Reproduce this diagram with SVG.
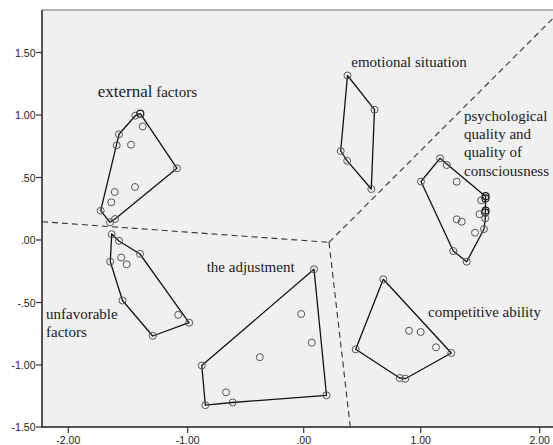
<svg xmlns="http://www.w3.org/2000/svg" width="553" height="445" viewBox="0 0 553 445">
<style>
.pt{fill:none;stroke:#555;stroke-width:1}
.pk{fill:none;stroke:#222;stroke-width:1.2}
.hull{fill:none;stroke:#111;stroke-width:1.3;stroke-linejoin:round}
.dash{fill:none;stroke:#333;stroke-width:1.1;stroke-dasharray:6,4}
.lbl{font-family:"Liberation Serif","Times New Roman",serif;font-size:15px;fill:#1a1a1a}
.ax{font-family:"Liberation Sans",Arial,sans-serif;font-size:10.5px;fill:#222}
.tick{stroke:#333;stroke-width:1.2}
</style>
<rect x="0" y="0" width="553" height="445" fill="#fff"/>
<rect x="42" y="10" width="520" height="417" fill="#f0f0f0" stroke="#888" stroke-width="1.2"/>
<g id="axes">
<line x1="42" y1="10" x2="42" y2="427.5" stroke="#333" stroke-width="1.5"/>
<line x1="41.5" y1="427" x2="553" y2="427" stroke="#333" stroke-width="1.5"/>
<line class="tick" x1="36" y1="52.5" x2="42" y2="52.5"/>
<line class="tick" x1="36" y1="115" x2="42" y2="115"/>
<line class="tick" x1="36" y1="177.5" x2="42" y2="177.5"/>
<line class="tick" x1="36" y1="240" x2="42" y2="240"/>
<line class="tick" x1="36" y1="302.5" x2="42" y2="302.5"/>
<line class="tick" x1="36" y1="365" x2="42" y2="365"/>
<line class="tick" x1="36" y1="427" x2="42" y2="427"/>
<line class="tick" x1="68.3" y1="427" x2="68.3" y2="433"/>
<line class="tick" x1="187.7" y1="427" x2="187.7" y2="433"/>
<line class="tick" x1="303.7" y1="427" x2="303.7" y2="433"/>
<line class="tick" x1="420.7" y1="427" x2="420.7" y2="433"/>
<line class="tick" x1="539.7" y1="427" x2="539.7" y2="433"/>
<text class="ax" x="35.5" y="56.5" text-anchor="end">1.50</text>
<text class="ax" x="35.5" y="119" text-anchor="end">1.00</text>
<text class="ax" x="35.5" y="181.5" text-anchor="end">.50</text>
<text class="ax" x="35.5" y="244" text-anchor="end">.00</text>
<text class="ax" x="35.5" y="306.5" text-anchor="end">-.50</text>
<text class="ax" x="35.5" y="369" text-anchor="end">-1.00</text>
<text class="ax" x="35.5" y="431" text-anchor="end">-1.50</text>
<text class="ax" x="68.3" y="443.5" text-anchor="middle">-2.00</text>
<text class="ax" x="187.7" y="443.5" text-anchor="middle">-1.00</text>
<text class="ax" x="303.7" y="443.5" text-anchor="middle">.00</text>
<text class="ax" x="420.7" y="443.5" text-anchor="middle">1.00</text>
<text class="ax" x="539.7" y="443.5" text-anchor="middle">2.00</text>
</g>
<g id="connectors">
<line class="dash" x1="42" y1="221.7" x2="329" y2="242.3"/>
<line class="dash" x1="329" y1="242.3" x2="350.3" y2="427"/>
<line class="dash" x1="329" y1="242.3" x2="555" y2="16.3"/>
</g>
<g id="external-factors">
<polygon class="hull" points="140.3,113.7 177,168.3 115,219 110,222.3 100.7,210.7 119,134.3 135.3,115.7"/>
<circle class="pt" cx="135.3" cy="115.7" r="3.5"/>
<circle class="pk" cx="140.3" cy="113.7" r="3.5"/>
<circle class="pt" cx="142.7" cy="126.5" r="3.5"/>
<circle class="pt" cx="119" cy="134.3" r="3.5"/>
<circle class="pt" cx="116.7" cy="145.3" r="3.5"/>
<circle class="pt" cx="131" cy="144.7" r="3.5"/>
<circle class="pt" cx="177" cy="168.3" r="3.5"/>
<circle class="pt" cx="135" cy="187" r="3.5"/>
<circle class="pt" cx="114.7" cy="192" r="3.5"/>
<circle class="pt" cx="111.3" cy="202.3" r="3.5"/>
<circle class="pt" cx="100.7" cy="210.7" r="3.5"/>
<circle class="pt" cx="110" cy="222.3" r="3.5"/>
<circle class="pt" cx="115" cy="219" r="3.5"/>
<text class="lbl" x="97.7" y="97.3"><tspan font-size="17">external</tspan> factors</text>
</g>
<g id="unfavorable-factors">
<polygon class="hull" points="111.7,234 119,241 140,254 189,322.7 152.7,336 122.5,300.5 110.3,261.7"/>
<circle class="pt" cx="111.7" cy="234.2" r="3.5"/>
<circle class="pt" cx="119" cy="240.8" r="3.5"/>
<circle class="pt" cx="140" cy="253.8" r="3.5"/>
<circle class="pt" cx="110.2" cy="261.7" r="3.5"/>
<circle class="pt" cx="121.2" cy="257.5" r="3.5"/>
<circle class="pt" cx="126.7" cy="264.3" r="3.5"/>
<circle class="pt" cx="122.5" cy="300.5" r="3.5"/>
<circle class="pt" cx="178.2" cy="314.8" r="3.5"/>
<circle class="pt" cx="189.2" cy="322.7" r="3.5"/>
<circle class="pt" cx="152.7" cy="335.8" r="3.5"/>
<text class="lbl" x="46" y="319">unfavorable</text>
<text class="lbl" x="46" y="337">factors</text>
</g>
<g id="the-adjustment">
<polygon class="hull" points="314,269.3 326.5,395.3 232.7,402.5 205.3,405.2 201.8,365.5"/>
<circle class="pt" cx="314" cy="269.3" r="3.5"/>
<circle class="pt" cx="301.2" cy="314" r="3.5"/>
<circle class="pt" cx="311.7" cy="342.7" r="3.5"/>
<circle class="pt" cx="259.8" cy="357.2" r="3.5"/>
<circle class="pt" cx="201.8" cy="365.5" r="3.5"/>
<circle class="pt" cx="226" cy="392.3" r="3.5"/>
<circle class="pt" cx="205.3" cy="405.2" r="3.5"/>
<circle class="pt" cx="232.7" cy="402.5" r="3.5"/>
<circle class="pt" cx="326.5" cy="395.3" r="3.5"/>
<text class="lbl" x="206.7" y="271.7">the adjustment</text>
</g>
<g id="competitive-ability">
<polygon class="hull" points="383.3,279.3 451.3,353 405.3,378.7 399.7,378 355.7,349.3"/>
<circle class="pt" cx="383.3" cy="279.3" r="3.5"/>
<circle class="pt" cx="355.7" cy="349.3" r="3.5"/>
<circle class="pt" cx="409" cy="330.7" r="3.5"/>
<circle class="pt" cx="420.7" cy="332" r="3.5"/>
<circle class="pt" cx="436" cy="347.3" r="3.5"/>
<circle class="pt" cx="451.3" cy="353" r="3.5"/>
<circle class="pt" cx="399.7" cy="378" r="3.5"/>
<circle class="pt" cx="405.3" cy="378.7" r="3.5"/>
<text class="lbl" x="428" y="317.3">competitive ability</text>
</g>
<g id="emotional-situation">
<polygon class="hull" points="347.5,75.5 374.5,109.7 371.3,189 347.2,160.8 340.7,151"/>
<circle class="pt" cx="347.5" cy="75.5" r="3.5"/>
<circle class="pt" cx="374.5" cy="109.7" r="3.5"/>
<circle class="pt" cx="340.7" cy="151" r="3.5"/>
<circle class="pt" cx="347.2" cy="160.8" r="3.5"/>
<circle class="pt" cx="371.3" cy="189" r="3.5"/>
<text class="lbl" x="351.3" y="66.7">emotional situation</text>
</g>
<g id="psychological-quality">
<polygon class="hull" points="440,158.3 485.6,196.6 485.3,218.3 484,229 466.7,261.7 453.3,251 421,181.5"/>
<circle class="pt" cx="440" cy="158.3" r="3.5"/>
<circle class="pt" cx="446.7" cy="165" r="3.5"/>
<circle class="pt" cx="421" cy="181.5" r="3.5"/>
<circle class="pt" cx="456.7" cy="181.7" r="3.5"/>
<circle class="pt" cx="481.2" cy="200.3" r="3.5"/>
<circle class="pk" cx="485.6" cy="196.2" r="3.5"/>
<circle class="pk" cx="485.4" cy="198.4" r="3.5"/>
<circle class="pk" cx="485.6" cy="210.6" r="3.5"/>
<circle class="pk" cx="485.2" cy="212.6" r="3.5"/>
<circle class="pt" cx="479.5" cy="214.2" r="3.5"/>
<circle class="pt" cx="485.2" cy="218.4" r="3.5"/>
<circle class="pt" cx="456.7" cy="219.3" r="3.5"/>
<circle class="pt" cx="461.7" cy="221.7" r="3.5"/>
<circle class="pt" cx="484" cy="229" r="3.5"/>
<circle class="pt" cx="475" cy="232.7" r="3.5"/>
<circle class="pt" cx="453.3" cy="251" r="3.5"/>
<circle class="pt" cx="466.7" cy="261.7" r="3.5"/>
<text class="lbl" x="464" y="120.7">psychological</text>
<text class="lbl" x="464" y="139">quality and</text>
<text class="lbl" x="464" y="157.3">quality of</text>
<text class="lbl" x="464" y="175.7">consciousness</text>
</g>
</svg>
